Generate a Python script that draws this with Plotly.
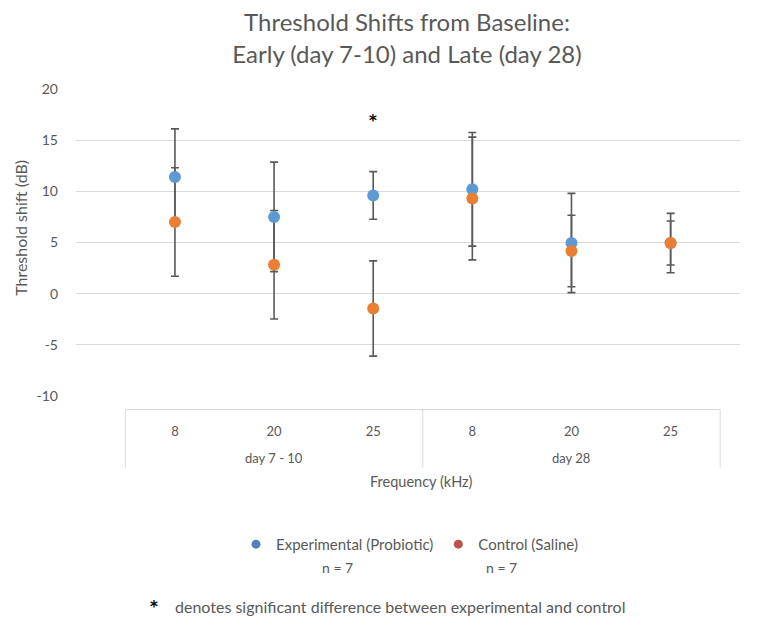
import plotly.graph_objects as go

# ---- data ----
categories = ["8", "20", "25", "8", "20", "25"]
groups = ["day 7 - 10", "day 28"]
experimental = [11.4, 7.5, 9.6, 10.2, 4.95, 4.95]
experimental_err = [4.7, 5.35, 2.33, 5.55, 4.85, 2.9]
control = [7.0, 2.83, -1.45, 9.3, 4.17, 4.95]
control_err = [5.3, 5.3, 4.65, 6.0, 3.5, 2.15]
series_names = ["Experimental (Probiotic)", "Control (Saline)"]
n_labels = ["n = 7", "n = 7"]
y_ticks = [-10, -5, 0, 5, 10, 15, 20]
y_tick_text = ["-10", "-5", "0", "5", "10", "15", "20"]
sig_index = 2
sig_y = 16.9

FONT = "Lato"
GREY = "#595959"
GRID = "#d9d9d9"
BLUE = "#5b9bd5"
ORANGE = "#ed7d31"

# plot area in page pixels (page has an 8px body margin)
OFF = 8
PL, PR, PT, PB = 76, 740, 89, 396.4
W, H = 759, 618


def py(pix):
    return (PB - pix) / (PB - PT)


def px(pix):
    return (pix - PL) / (PR - PL)


x = list(range(len(categories)))
fig = go.Figure()

# error bars first (beneath all markers)
for vals, errs in [(experimental, experimental_err), (control, control_err)]:
    fig.add_trace(go.Scatter(
        x=x, y=vals, mode="markers",
        marker=dict(size=1, color="rgba(0,0,0,0)"),
        error_y=dict(type="data", array=errs, visible=True, color=GREY, thickness=1.6, width=4),
        showlegend=False, hoverinfo="skip"))

# markers
for vals, col, name in [(experimental, BLUE, series_names[0]), (control, ORANGE, series_names[1])]:
    fig.add_trace(go.Scatter(
        x=x, y=vals, mode="markers", name=name,
        marker=dict(size=12, color=col, line=dict(width=0)),
        showlegend=False))

# legend entries
for name, col in [(series_names[0], "#4f81bd"), (series_names[1], "#c0504d")]:
    fig.add_trace(go.Scatter(x=[None], y=[None], mode="markers", name=name,
                             marker=dict(size=9, color=col)))

# significance asterisk
fig.add_annotation(x=sig_index, y=sig_y, text="<b>*</b>", showarrow=False,
                   xanchor="center", yanchor="middle",
                   font=dict(family="DejaVu Sans", size=15, color="black"))

# category box below plot
box_top, box_bot = py(410), py(468)
fig.add_shape(type="line", xref="x", yref="paper", x0=-0.5, x1=len(x) - 0.5,
              y0=box_top, y1=box_top, line=dict(color=GRID, width=1))
for xv in [-0.5, 2.5, 5.5]:
    fig.add_shape(type="line", xref="x", yref="paper", x0=xv, x1=xv,
                  y0=box_top, y1=box_bot, line=dict(color=GRID, width=1))

for i, g in enumerate(groups):
    fig.add_annotation(x=1 + 3 * i, y=py(458), xref="x", yref="paper", text=g,
                       xanchor="center", yanchor="middle",
                       showarrow=False, font=dict(family=FONT, size=13, color=GREY))

fig.add_annotation(x=px(421), y=py(482), xref="paper", yref="paper",
                   xanchor="center", yanchor="middle",
                   text="Frequency (kHz)", showarrow=False,
                   font=dict(family=FONT, size=14.5, color=GREY))

fig.add_annotation(x=px(21), y=py(228), xref="paper", yref="paper",
                   xanchor="center", yanchor="middle",
                   text="Threshold shift (dB)", textangle=-90, showarrow=False,
                   font=dict(family=FONT, size=16, color=GREY))

for xp, t in zip([337, 501], n_labels):
    fig.add_annotation(x=px(xp), y=py(568), xref="paper", yref="paper",
                       xanchor="center", yanchor="middle",
                       text=t, showarrow=False, font=dict(family=FONT, size=14, color=GREY))

fig.add_annotation(x=px(154), y=py(608), xref="paper", yref="paper",
                   xanchor="center", yanchor="middle", text="<b>*</b>", showarrow=False,
                   font=dict(family="DejaVu Sans", size=15, color="black"))
fig.add_annotation(x=px(173), y=py(607), xref="paper", yref="paper",
                   xanchor="left", yanchor="middle",
                   text="denotes significant difference between experimental and control",
                   showarrow=False, font=dict(family=FONT, size=16, color=GREY))

fig.update_layout(
    width=W, height=H,
    margin=dict(l=PL - OFF, r=W - (PR - OFF), t=PT - OFF, b=H - (PB - OFF)),
    paper_bgcolor="white", plot_bgcolor="white",
    title=dict(text="Threshold Shifts from Baseline:<br>Early (day 7-10) and Late (day 28)",
               x=399 / W, xanchor="center", y=0.962, yanchor="top",
               font=dict(family=FONT, size=24, color=GREY)),
    font=dict(family=FONT, color=GREY),
    legend=dict(orientation="h", x=px(236), xanchor="left", y=py(545), yanchor="middle",
                font=dict(family=FONT, size=15, color=GREY), itemwidth=30,
                bgcolor="rgba(0,0,0,0)"),
    xaxis=dict(range=[-0.998, 5.70], tickvals=x, ticktext=categories,
               showgrid=False, zeroline=False, showline=False,
               ticks="", ticklabelstandoff=26,
               tickfont=dict(family=FONT, size=13, color=GREY)),
    yaxis=dict(range=[-10, 20], tickvals=y_ticks, ticktext=y_tick_text,
               showgrid=True, gridcolor=GRID, gridwidth=1, zeroline=False,
               showline=False, ticks="", ticklabelstandoff=17,
               tickfont=dict(family=FONT, size=14, color=GREY)),
)

fig.write_html("out.html")
